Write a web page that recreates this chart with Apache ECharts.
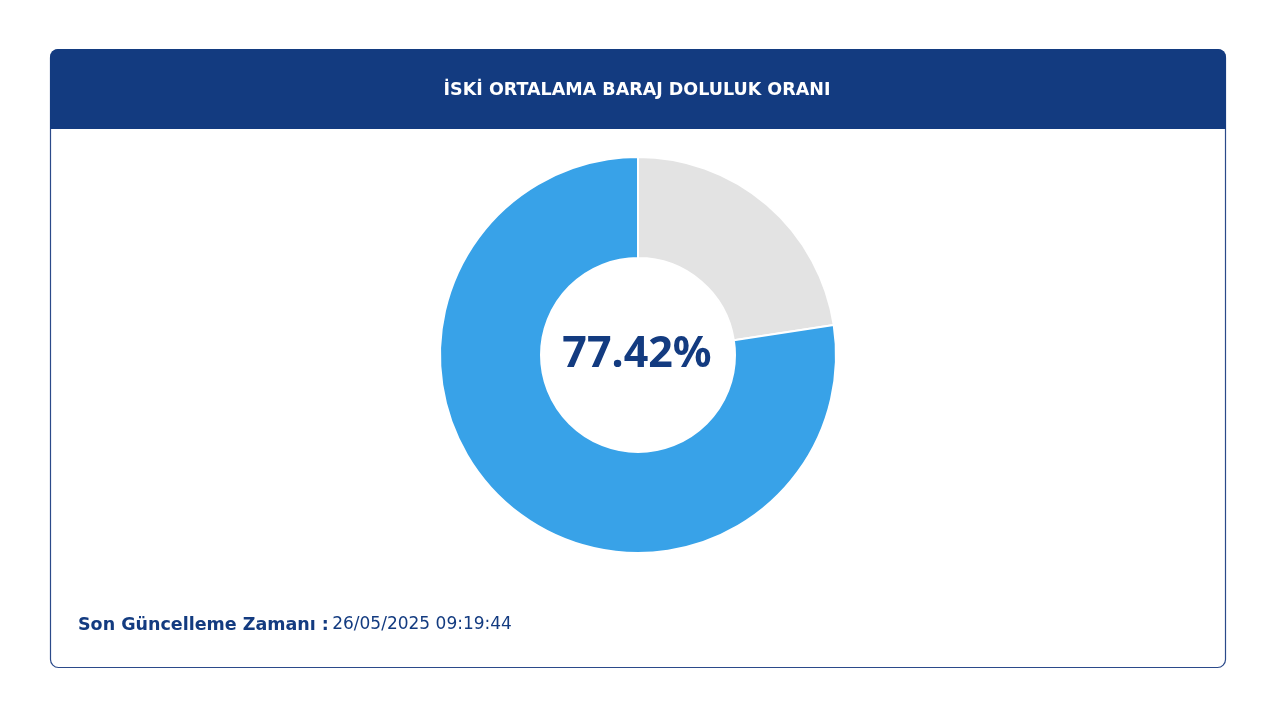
<!DOCTYPE html>
<html><head><meta charset="utf-8">
<script src="https://cdn.jsdelivr.net/npm/echarts@6/dist/echarts.min.js"></script>
<style>html,body{margin:0;padding:0;background:#fff}#c{width:1280px;height:720px}</style>
</head><body><div id="c"></div>
<script>
const titleText = 'İSKİ ORTALAMA BARAJ DOLULUK ORANI';
const categories = ['Boş', 'Dolu'];
const values = [22.58, 77.42];
const centerLabel = '77.42%';
const updateLabel = 'Son Güncelleme Zamanı :';
const updateTime = '26/05/2025 09:19:44';
const navy = '#133b80';
const chart = echarts.init(document.getElementById('c'));
chart.setOption({
  animation: false,
  graphic: [
    {type:'rect', shape:{x:50.5,y:49.5,width:1175,height:618,r:8}, style:{fill:'#fff',stroke:'#2b4a8a',lineWidth:1.2}, z:0},
    {type:'rect', shape:{x:50,y:49,width:1176,height:80,r:[8,8,0,0]}, style:{fill:navy}, z:1},
    {type:'text', x:637, y:90, style:{text:titleText, fill:'#fff', font:'bold 17.5px "DejaVu Sans", sans-serif', align:'center', verticalAlign:'middle'}, z:2},
    {type:'text', x:78, y:625, style:{rich:{a:{fill:navy,font:'bold 17.5px "DejaVu Sans", sans-serif'},b:{fill:navy,font:'17px "DejaVu Sans", sans-serif'}}, text:'{a|'+updateLabel+'} {b|'+updateTime+'}', verticalAlign:'middle'}, z:2},
    {type:'text', x:637, y:355, style:{text:centerLabel, fill:navy, font:'bold 43px "Noto Sans", sans-serif', align:'center', verticalAlign:'middle'}, z:5}
  ],
  series: [{
    type:'pie', center:[638,355], radius:[97,198], startAngle:90, clockwise:true,
    label:{show:false}, labelLine:{show:false}, silent:true,
    itemStyle:{borderColor:'#fff', borderWidth:2},
    data: categories.map((n,i)=>({name:n, value:values[i], itemStyle:{color: i===0?'#e3e3e3':'#38a2e8'}}))
  }]
});
</script></body></html>
